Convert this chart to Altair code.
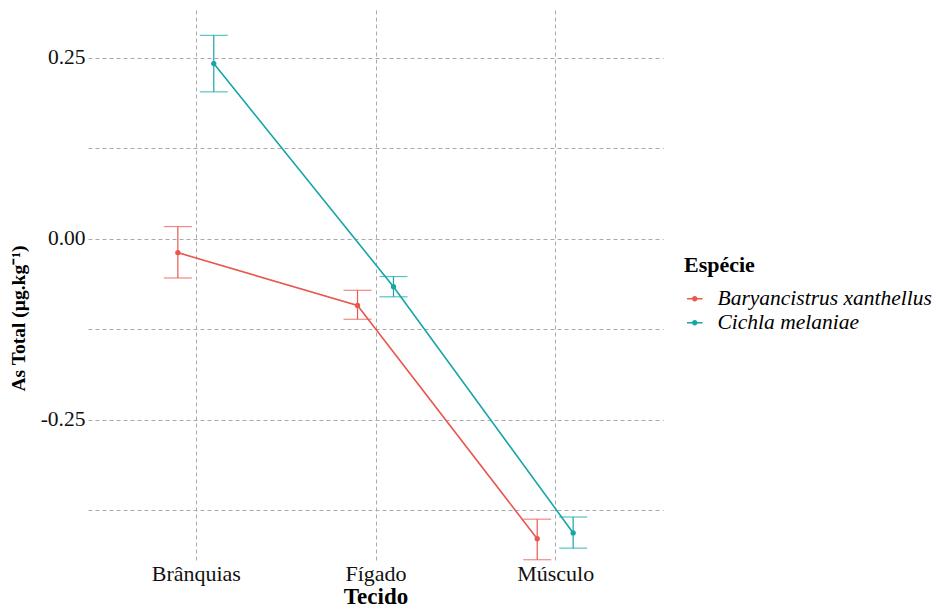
import altair as alt
import pandas as pd

tecidos = ["Brânquias", "Fígado", "Músculo"]
especies = ["Baryancistrus xanthellus", "Cichla melaniae"]

bary_mean = [-0.019, -0.092, -0.414]
bary_low = [-0.054, -0.111, -0.443]
bary_high = [0.017, -0.071, -0.387]

cich_mean = [0.242, -0.066, -0.406]
cich_low = [0.203, -0.080, -0.427]
cich_high = [0.281, -0.052, -0.384]

dodge = [-0.1, 0.1]
colors = ["#E8584F", "#16A5A8"]

rows = []
for s_i, (sp, m, lo, hi) in enumerate([
    (especies[0], bary_mean, bary_low, bary_high),
    (especies[1], cich_mean, cich_low, cich_high),
]):
    for t_i, t in enumerate(tecidos):
        rows.append({
            "Tecido": t,
            "pos": t_i + 1 + dodge[s_i],
            "Espécie": sp,
            "mean": m[t_i],
            "low": lo[t_i],
            "high": hi[t_i],
        })
df = pd.DataFrame(rows)

FONT = "Liberation Serif"

x_enc = alt.X(
    "pos:Q",
    scale=alt.Scale(domain=[0.4, 3.6], nice=False, zero=False),
    axis=alt.Axis(
        values=[1, 2, 3],
        labelExpr="datum.value == 1 ? 'Brânquias' : datum.value == 2 ? 'Fígado' : 'Músculo'",
        title="Tecido",
        grid=True,
        domain=False,
        ticks=False,
        labelPadding=0,
        titlePadding=1,
        titleFontSize=23,
        labelFontSize=22,
    ),
)
y_scale = alt.Scale(domain=[-0.4475, 0.316], nice=False, zero=False)
y_axis = alt.Axis(
    values=[-0.375, -0.25, -0.125, 0, 0.125, 0.25],
    labelExpr="datum.value == 0.25 ? '0.25' : datum.value == 0 ? '0.00' : datum.value == -0.25 ? '-0.25' : ''",
    title="As Total (µg.kg⁻¹)",
    grid=True,
    domain=False,
    ticks=False,
    labelPadding=3,
    titlePadding=12,
    titleFontSize=19.5,
    titleY=308,
    labelFontSize=21.5,
)
color_enc = alt.Color(
    "Espécie:N",
    scale=alt.Scale(domain=especies, range=colors),
    legend=alt.Legend(
        title="Espécie",
        orient="none",
        legendX=596,
        legendY=245,
        symbolType="M-1,0L1,0M0.25,0A0.25,0.25 0 1 1 -0.25,0A0.25,0.25 0 1 1 0.25,0Z",
        symbolSize=240,
        symbolStrokeWidth=1.5,
        symbolOpacity=1,
        labelFontStyle="italic",
        labelFont=FONT,
        labelFontSize=21.5,
        labelColor="#000000",
        labelLimit=400,
        labelOffset=12,
        titleFont=FONT,
        titleFontSize=22,
        titleFontWeight="bold",
        titleColor="#000000",
        titlePadding=11,
        rowPadding=1,
    ),
)

base = alt.Chart(df)

lines = base.mark_line(strokeWidth=1.6).encode(
    x=x_enc,
    y=alt.Y("mean:Q", scale=y_scale, axis=y_axis),
    color=color_enc,
    detail="Espécie:N",
    order="pos:Q",
)
rules = base.mark_rule(strokeWidth=1.2).encode(
    x="pos:Q",
    y="low:Q",
    y2="high:Q",
    color=color_enc,
)
caps_low = base.mark_tick(orient="horizontal", size=28, thickness=1.2).encode(
    x="pos:Q", y="low:Q", color=color_enc
)
caps_high = base.mark_tick(orient="horizontal", size=28, thickness=1.2).encode(
    x="pos:Q", y="high:Q", color=color_enc
)
points = base.mark_point(filled=True, size=28, opacity=1).encode(
    x="pos:Q",
    y="mean:Q",
    color=color_enc,
)

chart = (
    alt.layer(lines, rules, caps_low, caps_high, points)
    .properties(width=575, height=553, padding={"left": 0, "top": 2, "right": 0, "bottom": 0})
    .configure_view(stroke=None)
    .configure_axis(
        gridColor="#AAAAAA",
        gridDash=[4, 3],
        gridWidth=1,
        labelFont=FONT,
        labelColor="#111111",
        titleFont=FONT,
        titleFontWeight="bold",
        titleColor="#000000",
    )
)

chart.save("out.html", embed_options={"renderer": "svg", "actions": False})
